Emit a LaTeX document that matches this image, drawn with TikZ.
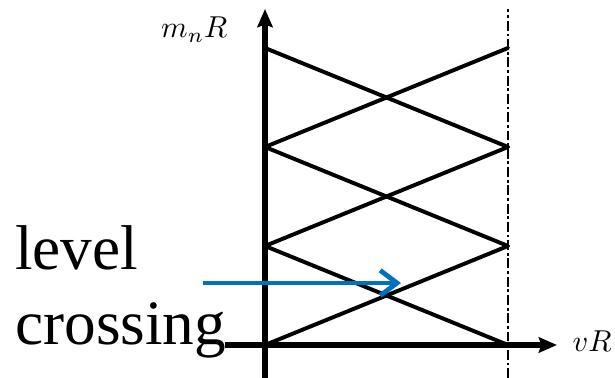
\documentclass[tikz,border=0pt]{standalone}
\usepackage{fontspec}
\setmainfont{Liberation Serif}
\usepackage{amsmath}
\usepackage{tikz}
\usetikzlibrary{arrows.meta, positioning}
\definecolor{crossblue}{RGB}{0,112,192}

\begin{document}
\begin{tikzpicture}[
    axis/.style={line width=4.2pt, -{Stealth[length=13pt, width=11pt, inset=2pt]}},
    level/.style={line width=2.8pt, line cap=round},
    boundary/.style={line width=1.4pt, dash pattern=on 7pt off 2pt on 2pt off 2pt},
    pointer/.style={crossblue, line width=3.4pt, -{Straight Barb[length=12pt, width=18pt, line width=3.4pt]}},
    axislabel/.style={inner sep=0pt, scale=2.15},
  ]
  \useasboundingbox (-6.625,-0.825) rectangle (8.75,8.625);

  % level end points on the axis and on the boundary
  \foreach \i in {0,...,3} {
    \coordinate (L\i) at (0, 2.475*\i);
    \coordinate (R\i) at (6.075, 2.475*\i);
  }

  % boundary (dash-dot)
  \coordinate (bbot) at (6.075,-0.825);
  \coordinate (btop) at (6.075,8.4);
  \draw[boundary] (bbot) -- (btop);

  % crossing levels
  \foreach \i [evaluate=\i as \j using int(\i+1)] in {0,1,2} {
    \draw[level] (L\i) -- (R\j);
    \draw[level] (L\j) -- (R\i);
  }

  % axes
  \coordinate (ybot) at (0,-0.825);
  \coordinate (ytop) at (0,8.4);
  \coordinate (xleft) at (-1.0,0);
  \coordinate (xright) at (7.3,0);
  \draw[axis] (ybot) -- (ytop);
  \draw[axis] (xleft) -- (xright);
  \node[axislabel, anchor=base east] (mlabel) at (-0.925,7.675) {$m_nR$};
  \node[axislabel, anchor=base west] (vlabel) at (7.675,-0.175) {$vR$};

  % level crossing annotation
  \node[inner sep=0pt, anchor=base west, align=left, font=\fontsize{45}{53.5}\selectfont] (note) at (-6.25,0) {level\\crossing};
  \coordinate (ptail) at (-1.55,1.55);
  \coordinate (phead) at (3.4,1.55);
  \draw[pointer] (ptail) -- (phead);
\end{tikzpicture}
\end{document}
